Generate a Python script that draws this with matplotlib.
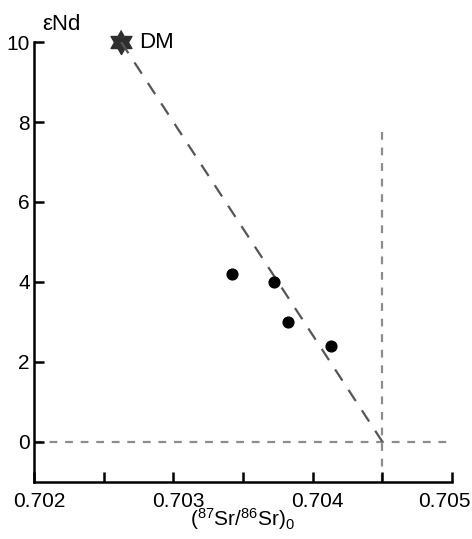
import numpy as np
import matplotlib.pyplot as plt
from matplotlib.transforms import ScaledTranslation

plt.rcParams['font.family'] = ['Liberation Sans', 'DejaVu Sans']
plt.rcParams['mathtext.fontset'] = 'custom'
plt.rcParams['mathtext.rm'] = 'Liberation Sans'
plt.rcParams['mathtext.it'] = 'Liberation Sans:italic'

# Samples
sr_initial = [0.70342, 0.70372, 0.70382, 0.70413]
eps_nd = [4.2, 4.0, 3.0, 2.4]

# Depleted mantle end-member and mixing trend end
dm_sr, dm_nd = 0.702625, 10.0
trend_sr = [0.702625, 0.7045]
trend_nd = [10.0, 0.0]

# Reference lines
bulk_earth_sr = 0.7045
bulk_earth_top = 7.9

# hexagram marker shape
ang = np.deg2rad(90 + np.arange(12) * 30)
rad = np.where(np.arange(12) % 2 == 0, 1.0, 1 / np.sqrt(3))
hexagram = list(zip(rad * np.cos(ang), rad * np.sin(ang)))

fig = plt.figure(figsize=(4.72, 5.39), dpi=100)
ax = fig.add_axes([0.072, 0.106, 0.886, 0.816])

ax.plot(trend_sr, trend_nd, color='#555555', lw=1.6, dashes=(6, 5), zorder=2)
ax.axhline(0, color='#8c8c8c', lw=1.6, dashes=(3.5, 3.5), zorder=1)
ax.plot([bulk_earth_sr, bulk_earth_sr], [-1, bulk_earth_top], color='#8c8c8c',
        lw=1.6, dashes=(3.5, 3.5), zorder=1)

ax.scatter(sr_initial, eps_nd, s=60, color='black', zorder=3)
ax.scatter([dm_sr], [dm_nd], marker=hexagram, s=300, color='#2e2e2e',
           zorder=1.5, clip_on=False)
ax.text(dm_sr + 0.00013, dm_nd, 'DM', fontsize=16, va='center', ha='left')

ax.set_xlim(0.702, 0.705)
ax.set_ylim(-1, 10)
ax.set_xticks(np.arange(0.702, 0.70501, 0.0005))
ax.set_xticklabels(['0.702', '', '0.703', '', '0.704', '', '0.705'])
ax.set_yticks([0, 2, 4, 6, 8, 10])

for s in ['top', 'right']:
    ax.spines[s].set_visible(False)
for s in ['left', 'bottom']:
    ax.spines[s].set_linewidth(1.8)
ax.tick_params(direction='in', length=7, width=1.8, labelsize=15, pad=7)
ax.tick_params(axis='y', pad=3)

labels = ax.get_xticklabels()
for lab in labels[:-1]:
    lab.set_transform(lab.get_transform() + ScaledTranslation(0.05, 0, fig.dpi_scale_trans))
labels[-1].set_horizontalalignment('right')
labels[-1].set_transform(labels[-1].get_transform() + ScaledTranslation(0.18, 0, fig.dpi_scale_trans))

ax.set_xlabel(r'$(^{87}\mathrm{Sr}/^{86}\mathrm{Sr})_0$', fontsize=15, labelpad=-3)
fig.text(0.09, 0.954, 'εNd', fontsize=16, ha='left', va='center')

fig.savefig('out.png', dpi=100)
